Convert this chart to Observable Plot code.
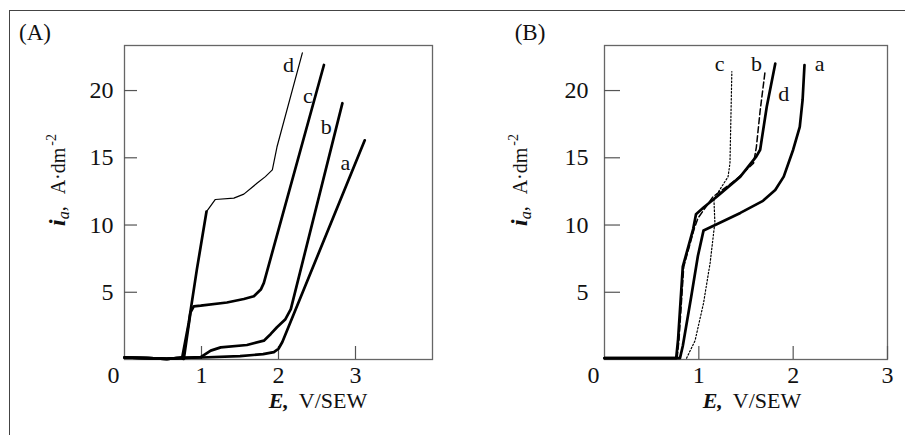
<!DOCTYPE html>
<html><head><meta charset="utf-8">
<script src="https://cdn.jsdelivr.net/npm/d3@7"></script>
<script src="https://cdn.jsdelivr.net/npm/@observablehq/plot@0.6"></script>
<style>
body{margin:0;background:#fff;}
#wrap{position:relative;width:905px;height:435px;overflow:hidden;font-family:"Liberation Serif","Times New Roman",Times,serif;background:#fff;}
#border{position:absolute;left:9px;top:10px;width:910px;height:440px;border-top:1.5px solid #444;border-left:1.5px solid #444;}
.panel{position:absolute;top:0;}
</style></head><body>
<div id="wrap"><div id="border"></div><div id="pa" class="panel" style="left:0"></div><div id="pb" class="panel" style="left:450px"></div></div>
<script>
// ---------- data: E (V/SEW), i_a (A·dm^-2) ----------
const yTicks = [5, 10, 15, 20];
const xTickLabels = [0, 1, 2, 3];
const xTickMarks = [1, 2, 3];

// Panel A
const A_a = [[0,0.15],[0.3,0.1],[0.55,0.05],[0.75,0.12],[1.0,0.15],[1.5,0.25],[1.8,0.4],[1.94,0.55],[2.0,0.8],[2.05,1.3],[3.12,16.3]];
const A_b = [[0,0.15],[0.3,0.1],[0.55,0.05],[0.75,0.12],[0.99,0.17],[1.12,0.66],[1.25,0.9],[1.59,1.08],[1.81,1.4],[1.90,1.9],[1.98,2.4],[2.09,3.0],[2.16,3.75],[2.83,19.06]];
const A_c = [[0,0.15],[0.3,0.1],[0.55,0.05],[0.72,0.12],[0.77,0.04],[0.857,3.5],[0.90,3.95],[0.99,4.0],[1.33,4.24],[1.55,4.5],[1.68,4.7],[1.77,5.2],[1.81,5.7],[2.59,21.9]];
const A_dLow = [[0,0.15],[0.3,0.1],[0.55,0.05],[0.72,0.12],[0.75,0.17],[0.835,2.76],[0.94,6.7],[1.065,11.0]];
const A_dHigh = [[1.065,11.0],[1.18,11.9],[1.42,12.0],[1.55,12.3],[1.72,13.1],[1.83,13.6],[1.92,14.1],[1.98,15.8],[2.31,22.8]];
const A_labels = ["a","b","c","d"];
const A_labelE = [2.87, 2.62, 2.38, 2.13];
const A_labelI = [14.6, 17.3, 19.6, 21.9];

// Panel B
const B_a = [[0,0.1],[0.8,0.1],[0.83,1.0],[0.92,4.7],[0.99,7.7],[1.05,9.6],[1.19,10.05],[1.44,10.9],[1.68,11.8],[1.81,12.6],[1.90,13.6],[2.0,15.6],[2.07,17.3],[2.10,19.3],[2.12,21.9]];
const B_b = [[0.77,0.1],[0.79,1.5],[0.84,6.9],[0.95,9.7],[0.99,10.5],[1.08,11.4],[1.15,12.1],[1.40,13.4],[1.58,14.6],[1.61,15.8],[1.65,18.5],[1.70,21.3]];
const B_c = [[0.87,0.1],[0.96,1.4],[1.05,4.2],[1.12,7.2],[1.17,10.2],[1.16,11.9],[1.22,12.6],[1.31,13.6],[1.33,14.6],[1.35,21.4]];
const B_d = [[0,0.1],[0.76,0.1],[0.78,1.5],[0.83,6.9],[0.94,9.7],[0.97,10.8],[1.05,11.3],[1.19,12.1],[1.44,13.6],[1.61,15.1],[1.65,15.6],[1.72,18.8],[1.81,22.0]];
const B_labels = ["a","b","c","d"];
const B_labelE = [2.28, 1.61, 1.22, 1.90];
const B_labelI = [22.0, 22.0, 22.0, 19.75];

const FONT = '"Liberation Serif","Times New Roman",Times,serif';
const X = d => d[0], Y = d => d[1];
const thick = {x: X, y: Y, stroke: "#000", strokeWidth: 2.7};

function panel({width, marginLeft, xDomain, yTickSize, yPad, lines, labels, lx, ly, letter, yLabX, xLabX}) {
  const svg = Plot.plot({
    width, height: 435,
    marginLeft, marginRight: 18, marginTop: 45, marginBottom: 76,
    x: {domain: xDomain, label: null},
    y: {domain: [0, 23.35], label: null},
    style: {fontFamily: FONT, fontSize: "24px", color: "#111", background: "transparent", overflow: "visible"},
    marks: [
      Plot.frame({stroke: "#666", strokeWidth: 1.3}),
      Plot.axisY(yTicks, {tickSize: -yTickSize, tickFormat: () => "", label: null, stroke: "#555", strokeWidth: 1.2}),
      Plot.axisY(yTicks, {tickSize: 0, tickPadding: yPad, label: null, fontSize: 24}),
      Plot.axisX(xTickMarks, {tickSize: -13, tickFormat: () => "", label: null, stroke: "#555", strokeWidth: 1.2}),
      Plot.axisX([xTickLabels[0]], {tickSize: 0, tickPadding: 6, dx: -11, label: null, fontSize: 24}),
      Plot.axisX(xTickLabels.slice(1), {tickSize: 0, tickPadding: 6, label: null, fontSize: 24}),
      ...lines,
      Plot.text(labels, {x: (d, i) => lx[i], y: (d, i) => ly[i], text: d => d, fontSize: 22, fill: "#111"})
    ]
  });
  const s = d3.select(svg);
  s.append("text").attr("x", letter.x).attr("y", 40).attr("font-size", 23).attr("fill", "#111").text(letter.t);
  const yl = s.append("text").attr("transform", `translate(${yLabX},180) rotate(-90)`)
    .attr("text-anchor", "middle").attr("fill", "#111").attr("font-size", 20);
  yl.append("tspan").attr("font-weight", "bold").attr("font-style", "italic").attr("font-size", 24).text("i");
  yl.append("tspan").attr("font-style", "italic").attr("font-size", 16).attr("dy", 4).text("a");
  yl.append("tspan").attr("font-size", 20).attr("dy", -4).text(",");
  yl.append("tspan").attr("dx", 12).text("A·dm");
  yl.append("tspan").attr("font-size", 14).attr("dy", -9).attr("dx", 2).text("-2");
  const xl = s.append("text").attr("x", xLabX).attr("y", 408).attr("fill", "#111").attr("font-size", 22);
  xl.append("tspan").attr("font-weight", "bold").attr("font-style", "italic").text("E,");
  xl.append("tspan").attr("dx", 10).text("V/SEW");
  return svg;
}

document.getElementById("pa").appendChild(panel({
  width: 450, marginLeft: 124, xDomain: [0, 4], yTickSize: 13, yPad: 11,
  lines: [
    Plot.line(A_a, thick), Plot.line(A_b, thick), Plot.line(A_c, thick),
    Plot.line(A_dLow, thick), Plot.line(A_dHigh, {x: X, y: Y, stroke: "#000", strokeWidth: 1.2})
  ],
  labels: A_labels, lx: A_labelE, ly: A_labelI, letter: {x: 35, t: "(A)"}, yLabX: 65, xLabX: 318
}));
document.getElementById("pb").appendChild(panel({
  width: 455, marginLeft: 154, xDomain: [0, 3], yTickSize: 16, yPad: 16,
  lines: [
    Plot.line(B_a, thick), Plot.line(B_d, thick),
    Plot.line(B_b, {x: X, y: Y, stroke: "#000", strokeWidth: 1.5, strokeDasharray: "6,3"}),
    Plot.line(B_c, {x: X, y: Y, stroke: "#000", strokeWidth: 1.2, strokeDasharray: "1.5,2"})
  ],
  labels: B_labels, lx: B_labelE, ly: B_labelI, letter: {x: 80, t: "(B)"}, yLabX: 77, xLabX: 302
}));
</script>
</body></html>
